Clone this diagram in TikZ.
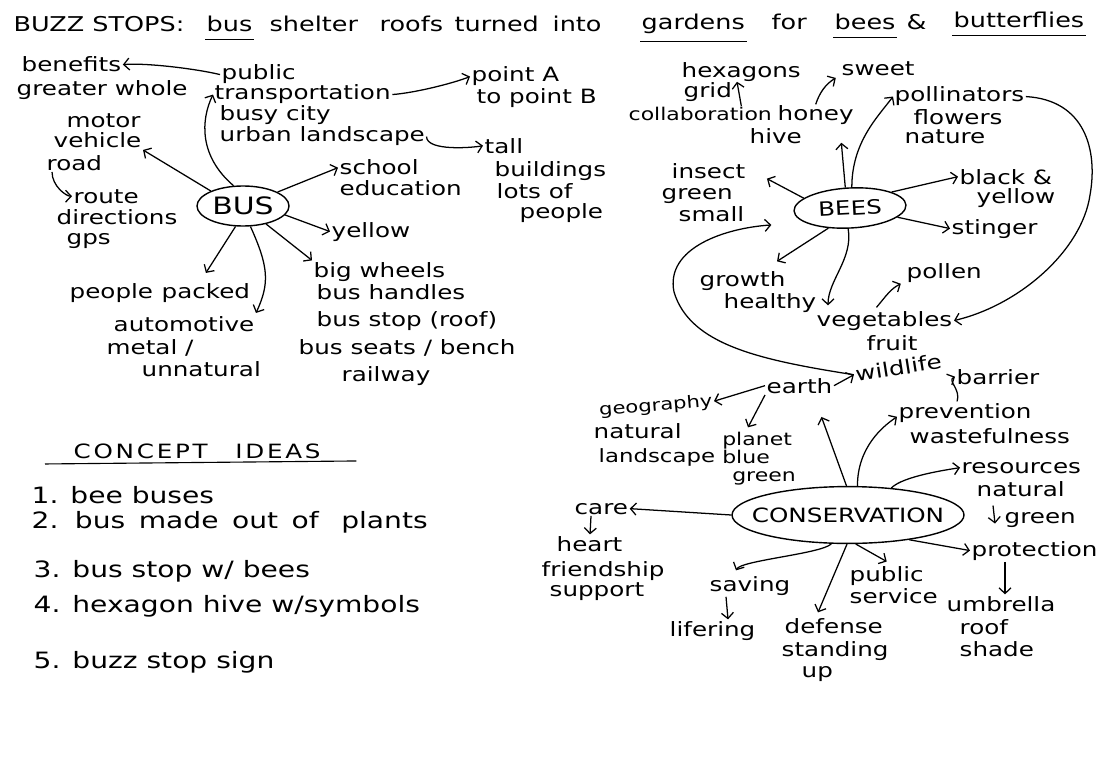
\documentclass[tikz,border=0pt]{standalone}
\usepackage{fontspec}
\setmainfont[FakeStretch=1.25]{DejaVu Sans}
\usetikzlibrary{positioning, shapes.geometric, arrows.meta, calc}

\tikzset{
  word/.style={anchor=base west, inner sep=1pt, font=\fontsize{14}{15}\selectfont},
  heading/.style={anchor=base west, inner sep=1pt, font=\fontsize{14.5}{16}\selectfont},
  idea/.style={anchor=base west, inner sep=1pt, font=\fontsize{16}{17}\selectfont},
  hub/.style={ellipse, draw, line width=1pt, inner sep=1pt, font=\fontsize{14}{15}\selectfont},
  link/.style={line width=0.9pt, -{Straight Barb[length=4pt, width=8.5pt]}},
  uline/.style={line width=1.1pt},
}

\begin{document}
\begin{tikzpicture}[x=0.025cm, y=-0.025cm]
\useasboundingbox (0,0) rectangle (1108,781);

% Title
\node[heading] (ttlA) at (12,32) {BUZZ STOPS:};
\node[heading] (tbus) at (205,32) {bus};
\node[heading] (ttlB) at (268,32) {shelter};
\node[heading] (ttlC) at (378,32) {roofs};
\node[heading] (ttlD) at (453,32) {turned};
\node[heading] (ttlE) at (551,32) {into};
\node[heading] (tgardens) at (640,30) {gardens};
\node[heading] (ttlF) at (770,30) {for};
\node[heading] (tbees) at (833,30) {bees};
\node[heading] (ttlG) at (905,30) {\&};
\node[heading] (tbutter) at (952,28) {butterflies};
\foreach \w in {tbus, tgardens, tbees, tbutter}
  \draw[uline] ([yshift=-4pt]\w.south west) -- ([yshift=-4pt]\w.south east);

% BUS map
\node[hub, minimum width=2.3cm, minimum height=1cm] (bus) at (243,206) {\fontsize{17}{18}\selectfont BUS};
\node[word] (benefits) at (20,72) {benefits};
\node[word] (greater) at (15,96) {greater whole};
\node[word] (public) at (220,80) {public};
\node[word] (transport) at (213,100) {transportation};
\node[word] (busy) at (218,120) {busy city};
\node[word] (urban) at (218,142) {urban landscape};
\node[word] (pointA) at (470,82) {point A};
\node[word] (pointB) at (475,104) {to point B};
\node[word] (tall) at (483,153) {tall};
\node[word] (buildings) at (493,176) {buildings};
\node[word] (lots) at (495,198) {lots of};
\node[word] (crowd) at (518,218) {people};
\node[word] (motor) at (65,128) {motor};
\node[word] (vehicle) at (52,148) {vehicle};
\node[word] (road) at (45,170) {road};
\node[word] (route) at (72,203) {route};
\node[word] (directions) at (55,224) {directions};
\node[word] (gps) at (65,244) {gps};
\node[word] (school) at (338,175) {school};
\node[word] (education) at (338,195) {education};
\node[word] (yellowA) at (330,237) {yellow};
\node[word] (wheels) at (312,277) {big wheels};
\node[word] (handles) at (315,299) {bus handles};
\node[word] (busstop) at (315,326) {bus stop (roof)};
\node[word] (seats) at (297,354) {bus seats / bench};
\node[word] (railway) at (340,381) {railway};
\node[word] (people) at (68,298) {people};
\node[word] (packed) at (160,298) {packed};
\node[word] (automotive) at (112,331) {automotive};
\node[word] (metal) at (105,354) {metal /};
\node[word] (unnatural) at (140,376) {unnatural};

\draw[link] (bus.155) -- (vehicle.south east);
\draw[link] (bus.115) .. controls +(-35,-30) and +(-12,25) .. (transport.west);
\draw[link] (public.west) .. controls +(-25,-6) and +(22,-2) .. (benefits.east);
\draw[link] (transport.east) .. controls +(25,-2) and +(-15,6) .. (pointA.west);
\draw[link] (urban.east) .. controls +(0,15) and +(-10,2) .. (tall.west);
\draw[link] ([xshift=5pt]road.south west) .. controls +(0,14) and +(-6,0) .. (route.west);
\draw[link] (bus.22) -- (school.west);
\draw[link] (bus.-12) -- (yellowA.west);
\draw[link] (bus.-38) -- (wheels.north west);
\draw[link] (bus.250) -- ([yshift=6pt]packed.north);
\draw[link] (bus.290) .. controls +(18,40) and +(14,-30) .. ([yshift=1pt]automotive.north east);

% BEES map
\node[hub, minimum width=2.8cm, minimum height=1cm, rotate=3] (bees) at (850,208) {BEES};
\node[word] (hexagons) at (680,78) {hexagons};
\node[word] (grid) at (682,98) {grid};
\node[word, font=\fontsize{12.5}{14}\selectfont] (collab) at (627,121) {collaboration};
\node[word] (honey) at (776,121) {honey};
\node[word] (hive) at (748,144) {hive};
\node[word] (sweet) at (840,76) {sweet};
\node[word] (pollinators) at (893,102) {pollinators};
\node[word] (flowers) at (912,124) {flowers};
\node[word] (nature) at (903,144) {nature};
\node[word] (insect) at (670,178) {insect};
\node[word] (greenA) at (660,199) {green};
\node[word] (small) at (677,221) {small};
\node[word] (black) at (958,184) {black \&};
\node[word] (yellowB) at (975,203) {yellow};
\node[word] (stinger) at (950,234) {stinger};
\node[word] (growth) at (698,286) {growth};
\node[word] (healthy) at (722,308) {healthy};
\node[word] (pollen) at (905,278) {pollen};
\node[word] (veg) at (815,326) {vegetables};
\node[word] (fruit) at (865,350) {fruit};

\draw[link] ($(collab.north east)!0.22!(collab.north west)$) -- ($(hexagons.south west)+(57,-2)$);
\draw[link] (honey.north) .. controls +(4,-12) and +(-10,6) .. ([xshift=-3pt]sweet.south west);
\draw[link] (bees.100) -- ($(honey.south east)+(-14,16)$);
\draw[link] (bees.82) .. controls +(0,-45) and +(-15,20) .. (pollinators.west);
\draw[link] (pollinators.east) .. controls (1085,100) and (1098,150) .. (1090,195)
  .. controls (1082,250) and (1020,305) .. (veg.east);
\draw[link] (bees.165) -- ($(insect.east)+(20,8)$);
\draw[link] (bees.18) -- (black.west);
\draw[link] (bees.-14) -- (stinger.west);
\draw[link] (bees.220) -- ($(growth.north east)+(-10,-8)$);
\draw[link] (bees.262) .. controls +(5,30) and +(0,-25) .. ($(veg.north west)+(13,-4)$);
\draw[link] ($(veg.north)+(-8,-2)$) .. controls +(10,-12) and +(-10,5) .. ([xshift=-3pt]pollen.south west);

% CONSERVATION map
\node[hub, inner xsep=-10pt, inner ysep=9pt] (cons) at (848,515) {CONSERVATION};
\node[word] (earth) at (765,393) {earth};
\node[word, rotate=9] (wildlife) at (855,382) {wildlife};
\node[word, rotate=5, font=\fontsize{12}{13}\selectfont] (geography) at (598,416) {geography};
\node[word] (naturalA) at (592,438) {natural};
\node[word, font=\fontsize{13}{14}\selectfont] (landscape) at (597,462) {landscape};
\node[word, inner sep=0pt, font=\fontsize{12.5}{13}\selectfont] (planet) at (722,445) {planet};
\node[word, inner sep=0pt, font=\fontsize{12.5}{13}\selectfont] (blue) at (722,463) {blue};
\node[word, inner sep=0pt, font=\fontsize{12.5}{13}\selectfont] (greenB) at (732,481) {green};
\node[word] (barrier) at (955,384) {barrier};
\node[word] (prevention) at (897,418) {prevention};
\node[word] (waste) at (908,443) {wastefulness};
\node[word] (resources) at (960,473) {resources};
\node[word] (naturalB) at (975,496) {natural};
\node[word] (greenC) at (1003,523) {green};
\node[word] (protection) at (970,556) {protection};
\node[word] (umbrella) at (945,611) {umbrella};
\node[word] (roof) at (958,634) {roof};
\node[word] (shade) at (958,656) {shade};
\node[word] (care) at (573,514) {care};
\node[word] (heart) at (555,551) {heart};
\node[word] (friendship) at (540,576) {friendship};
\node[word] (support) at (548,596) {support};
\node[word] (saving) at (708,591) {saving};
\node[word] (lifering) at (668,636) {lifering};
\node[word] (defense) at (783,633) {defense};
\node[word] (standing) at (780,656) {standing};
\node[word] (up) at (800,677) {up};
\node[word] (publicB) at (848,581) {public};
\node[word] (service) at (848,603) {service};

\draw[link] (wildlife.west) .. controls (760,360) and (690,345) .. (674,292)
  .. controls (665,248) and (725,228) .. ($(bees.west)+(-22,14)$);
\draw[link] (earth.east) -- (wildlife.west);
\draw[link] (earth.west) -- (geography.east);
\draw[link] (earth.south west) -- ($(planet.north west)+(26,-4)$);
\draw[link] (cons.93) -- ($(earth.south)+(22,22)$);
\draw[link] ($(prevention.north)+(-8,0)$) .. controls +(4,-12) and +(-8,4) .. (barrier.west);
\draw[link] (cons.72) .. controls +(0,-38) and +(-15,10) .. ([yshift=-3pt]prevention.west);
\draw[link] (cons.32) .. controls +(12,-12) and +(-12,2) .. (resources.west);
\draw[link] ($(greenC.west)+(-10,-14)$) -- ($(greenC.west)+(-8,4)$);
\draw[link] (cons.-22) -- (protection.west);
\draw[link] ($(protection.south west)+(35,0)$) -- ($(umbrella.north west)+(60,0)$);
\draw[link] (cons.west) -- (care.east);
\draw[link] ($(care.south west)+(18,0)$) -- ($(heart.north west)+(35,0)$);
\draw[link] (cons.240) .. controls +(-10,10) and +(5,-10) .. ($(saving.north west)+(28,-4)$);
\draw[link] ($(saving.south west)+(18,0)$) -- ($(lifering.north west)+(60,0)$);
\draw[link] (cons.268) -- ($(defense.north west)+(35,-4)$);
\draw[link] (cons.-75) -- ([yshift=2pt]publicB.north);

% Concept ideas
\node[word] (concept) at (72,458) {\addfontfeature{LetterSpace=14}CONCEPT\hspace{1.4em}IDEAS};
\draw[line width=0.8pt] ($(concept.south west)+(-27,4)$) -- ($(concept.south east)+(34,1)$);
\node[idea] (idea1) at (30,503) {1. bee buses};
\node[idea] (idea2) at (30,528) {\spaceskip=0.6em 2. bus made out of\hspace{1em}plants};
\node[idea] (idea3) at (32,577) {3. bus stop w/ bees};
\node[idea] (idea4) at (32,612) {4. hexagon hive w/symbols};
\node[idea] (idea5) at (32,668) {5. buzz stop sign};

\end{tikzpicture}
\end{document}
